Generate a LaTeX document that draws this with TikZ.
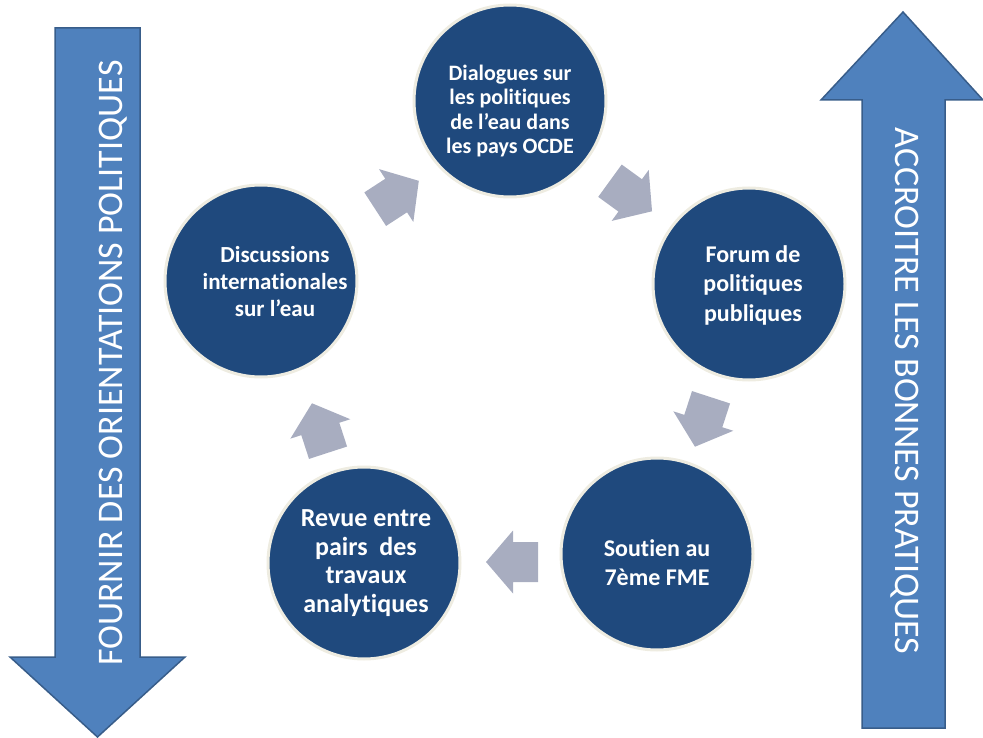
\documentclass[tikz,border=0pt]{standalone}
\usepackage{fontspec}
\setmainfont{Carlito}[Ligatures=NoCommon]
\definecolor{circfill}{RGB}{31,73,125}
\definecolor{circedge}{RGB}{238,236,225}
\definecolor{bigfill}{RGB}{79,129,189}
\definecolor{bigedge}{RGB}{56,93,138}
\definecolor{smallfill}{RGB}{168,173,192}
\tikzset{
  bubble/.style={circle, fill=circfill, draw=circedge, line width=3pt, minimum size=192pt, inner sep=0pt},
  bubbletext/.style={align=center, text=white, inner sep=0pt},
  bigarrow/.style={fill=bigfill, draw=bigedge, line width=1.5pt, line join=miter},
  bigtext/.style={text=white, font=\fontsize{36}{40}\selectfont, inner sep=0pt},
  cyclearrow/.pic={\fill[smallfill] (26,0) -- (-1,31.5) -- (-1,20) -- (-26,20) -- (-26,-20) -- (-1,-20) -- (-1,-31.5) -- cycle;}
}
\begin{document}
\begin{tikzpicture}[x=1pt,y=-1pt]
\useasboundingbox (0,0) rectangle (983,738);
% big arrows
\draw[bigarrow] (55,28) -- (140,28) -- (140,657) -- (185,657) -- (97.5,737) -- (10,657) -- (55,657) -- cycle;
\draw[bigarrow] (862,728) -- (945,728) -- (945,100) -- (983,100) -- (903,12) -- (821,100) -- (862,100) -- cycle;
\node[bigtext, rotate=90] (leftlabel) at (113,363) {FOURNIR DES ORIENTATIONS POLITIQUES};
\node[bigtext, rotate=-90] (rightlabel) at (905,391) {ACCROITRE LES BONNES PRATIQUES};
% circles
\node[bubble] (dialogues) at (510,101) {};
\node[bubbletext, font=\bfseries\fontsize{22}{24.5}\selectfont] (dialoguestext) at (510,111) {Dialogues sur\\les politiques\\de l’eau dans\\les pays OCDE};
\node[bubble] (forum) at (749,284) {};
\node[bubbletext, font=\bfseries\fontsize{24}{29.5}\selectfont] (forumtext) at (753,285) {Forum de\\politiques\\publiques};
\node[bubble] (soutien) at (657,554) {};
\node[bubbletext, font=\bfseries\fontsize{24}{29}\selectfont] (soutientext) at (657,563) {Soutien au\\7ème FME};
\node[bubble] (revue) at (364,563) {};
\node[bubbletext, font=\bfseries\fontsize{26}{28.5}\selectfont] (revuetext) at (366,563) {Revue entre\\pairs~~des\\travaux\\analytiques};
\node[bubble] (discussions) at (261,281) {};
\node[bubbletext, font=\bfseries\fontsize{23}{27}\selectfont] (discussionstext) at (275,282) {Discussions\\internationales\\sur l’eau};
% cycle arrows
\pic[rotate=33] at (397,195) {cyclearrow};
\pic[rotate=-36] at (631,196) {cyclearrow};
\pic[rotate=-108] at (703,422) {cyclearrow};
\pic[rotate=180] at (512,562) {cyclearrow};
\pic[rotate=108] at (320,428) {cyclearrow};
\end{tikzpicture}
\end{document}
